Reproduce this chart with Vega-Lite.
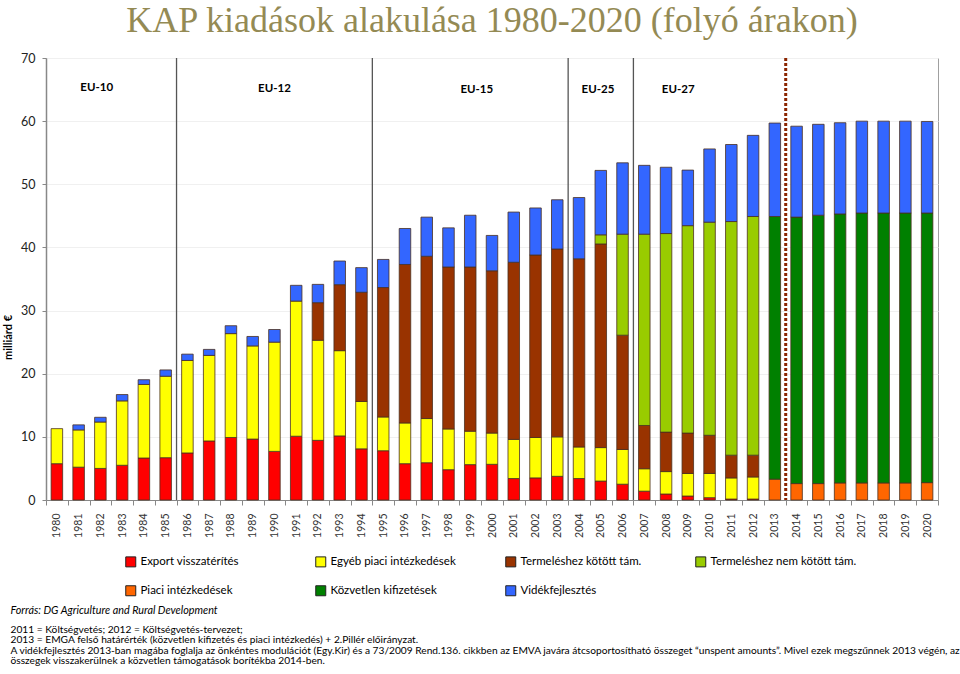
{
  "$schema": "https://vega.github.io/schema/vega-lite/v6.json",
  "width": 892,
  "height": 442,
  "autosize": {"type": "none"},
  "padding": {"left": 46, "top": 58, "right": 22, "bottom": 174},
  "background": "white",
  "config": {
    "font": "Lato",
    "view": {"stroke": "#a0a0a0", "strokeWidth": 1},
    "axis": {"labelFont": "Lato", "titleFont": "Lato"},
    "legend": {"labelFont": "Lato"},
    "text": {"font": "Lato"}
  },
  "title": {
    "text": "KAP kiadások alakulása 1980-2020 (folyó árakon)",
    "font": "Liberation Serif",
    "fontSize": 36,
    "fontWeight": "normal",
    "color": "#948A54",
    "anchor": "middle",
    "frame": "group",
    "offset": 12
  },
  "datasets": {
    "kiadasok": [
      {"ev": "1980", "k": "exp", "v": 5.75}, {"ev": "1980", "k": "egy", "v": 5.55},
      {"ev": "1981", "k": "exp", "v": 5.2}, {"ev": "1981", "k": "egy", "v": 5.9}, {"ev": "1981", "k": "vid", "v": 0.8},
      {"ev": "1982", "k": "exp", "v": 5.0}, {"ev": "1982", "k": "egy", "v": 7.35}, {"ev": "1982", "k": "vid", "v": 0.75},
      {"ev": "1983", "k": "exp", "v": 5.5}, {"ev": "1983", "k": "egy", "v": 10.2}, {"ev": "1983", "k": "vid", "v": 1.0},
      {"ev": "1984", "k": "exp", "v": 6.65}, {"ev": "1984", "k": "egy", "v": 11.65}, {"ev": "1984", "k": "vid", "v": 0.75},
      {"ev": "1985", "k": "exp", "v": 6.7}, {"ev": "1985", "k": "egy", "v": 12.9}, {"ev": "1985", "k": "vid", "v": 1.0},
      {"ev": "1986", "k": "exp", "v": 7.45}, {"ev": "1986", "k": "egy", "v": 14.65}, {"ev": "1986", "k": "vid", "v": 1.0},
      {"ev": "1987", "k": "exp", "v": 9.35}, {"ev": "1987", "k": "egy", "v": 13.55}, {"ev": "1987", "k": "vid", "v": 0.95},
      {"ev": "1988", "k": "exp", "v": 9.9}, {"ev": "1988", "k": "egy", "v": 16.45}, {"ev": "1988", "k": "vid", "v": 1.25},
      {"ev": "1989", "k": "exp", "v": 9.65}, {"ev": "1989", "k": "egy", "v": 14.75}, {"ev": "1989", "k": "vid", "v": 1.5},
      {"ev": "1990", "k": "exp", "v": 7.7}, {"ev": "1990", "k": "egy", "v": 17.3}, {"ev": "1990", "k": "vid", "v": 2.0},
      {"ev": "1991", "k": "exp", "v": 10.1}, {"ev": "1991", "k": "egy", "v": 21.4}, {"ev": "1991", "k": "vid", "v": 2.5},
      {"ev": "1992", "k": "exp", "v": 9.45}, {"ev": "1992", "k": "egy", "v": 15.85}, {"ev": "1992", "k": "kot", "v": 5.95}, {"ev": "1992", "k": "vid", "v": 2.9},
      {"ev": "1993", "k": "exp", "v": 10.15}, {"ev": "1993", "k": "egy", "v": 13.5}, {"ev": "1993", "k": "kot", "v": 10.45}, {"ev": "1993", "k": "vid", "v": 3.75},
      {"ev": "1994", "k": "exp", "v": 8.1}, {"ev": "1994", "k": "egy", "v": 7.5}, {"ev": "1994", "k": "kot", "v": 17.3}, {"ev": "1994", "k": "vid", "v": 3.9},
      {"ev": "1995", "k": "exp", "v": 7.8}, {"ev": "1995", "k": "egy", "v": 5.35}, {"ev": "1995", "k": "kot", "v": 20.5}, {"ev": "1995", "k": "vid", "v": 4.45},
      {"ev": "1996", "k": "exp", "v": 5.75}, {"ev": "1996", "k": "egy", "v": 6.45}, {"ev": "1996", "k": "kot", "v": 25.1}, {"ev": "1996", "k": "vid", "v": 5.7},
      {"ev": "1997", "k": "exp", "v": 5.9}, {"ev": "1997", "k": "egy", "v": 7.0}, {"ev": "1997", "k": "kot", "v": 25.7}, {"ev": "1997", "k": "vid", "v": 6.2},
      {"ev": "1998", "k": "exp", "v": 4.8}, {"ev": "1998", "k": "egy", "v": 6.45}, {"ev": "1998", "k": "kot", "v": 25.65}, {"ev": "1998", "k": "vid", "v": 6.2},
      {"ev": "1999", "k": "exp", "v": 5.6}, {"ev": "1999", "k": "egy", "v": 5.3}, {"ev": "1999", "k": "kot", "v": 26.0}, {"ev": "1999", "k": "vid", "v": 8.2},
      {"ev": "2000", "k": "exp", "v": 5.65}, {"ev": "2000", "k": "egy", "v": 4.95}, {"ev": "2000", "k": "kot", "v": 25.7}, {"ev": "2000", "k": "vid", "v": 5.6},
      {"ev": "2001", "k": "exp", "v": 3.4}, {"ev": "2001", "k": "egy", "v": 6.2}, {"ev": "2001", "k": "kot", "v": 28.05}, {"ev": "2001", "k": "vid", "v": 7.95},
      {"ev": "2002", "k": "exp", "v": 3.5}, {"ev": "2002", "k": "egy", "v": 6.4}, {"ev": "2002", "k": "kot", "v": 28.9}, {"ev": "2002", "k": "vid", "v": 7.45},
      {"ev": "2003", "k": "exp", "v": 3.75}, {"ev": "2003", "k": "egy", "v": 6.25}, {"ev": "2003", "k": "kot", "v": 29.75}, {"ev": "2003", "k": "vid", "v": 7.8},
      {"ev": "2004", "k": "exp", "v": 3.4}, {"ev": "2004", "k": "egy", "v": 5.0}, {"ev": "2004", "k": "kot", "v": 29.8}, {"ev": "2004", "k": "vid", "v": 9.7},
      {"ev": "2005", "k": "exp", "v": 3.0}, {"ev": "2005", "k": "egy", "v": 5.3}, {"ev": "2005", "k": "kot", "v": 32.25}, {"ev": "2005", "k": "nkot", "v": 1.45}, {"ev": "2005", "k": "vid", "v": 10.2},
      {"ev": "2006", "k": "exp", "v": 2.5}, {"ev": "2006", "k": "egy", "v": 5.5}, {"ev": "2006", "k": "kot", "v": 18.1}, {"ev": "2006", "k": "nkot", "v": 16.0}, {"ev": "2006", "k": "vid", "v": 11.3},
      {"ev": "2007", "k": "exp", "v": 1.4}, {"ev": "2007", "k": "egy", "v": 3.55}, {"ev": "2007", "k": "kot", "v": 6.85}, {"ev": "2007", "k": "nkot", "v": 30.3}, {"ev": "2007", "k": "vid", "v": 10.9},
      {"ev": "2008", "k": "exp", "v": 0.95}, {"ev": "2008", "k": "egy", "v": 3.55}, {"ev": "2008", "k": "kot", "v": 6.25}, {"ev": "2008", "k": "nkot", "v": 31.45}, {"ev": "2008", "k": "vid", "v": 10.5},
      {"ev": "2009", "k": "exp", "v": 0.63}, {"ev": "2009", "k": "egy", "v": 3.57}, {"ev": "2009", "k": "kot", "v": 6.4}, {"ev": "2009", "k": "nkot", "v": 32.85}, {"ev": "2009", "k": "vid", "v": 8.8},
      {"ev": "2010", "k": "exp", "v": 0.37}, {"ev": "2010", "k": "egy", "v": 3.83}, {"ev": "2010", "k": "kot", "v": 6.05}, {"ev": "2010", "k": "nkot", "v": 33.75}, {"ev": "2010", "k": "vid", "v": 11.6},
      {"ev": "2011", "k": "exp", "v": 0.15}, {"ev": "2011", "k": "egy", "v": 3.35}, {"ev": "2011", "k": "kot", "v": 3.6}, {"ev": "2011", "k": "nkot", "v": 37.0}, {"ev": "2011", "k": "vid", "v": 12.2},
      {"ev": "2012", "k": "exp", "v": 0.15}, {"ev": "2012", "k": "egy", "v": 3.5}, {"ev": "2012", "k": "kot", "v": 3.45}, {"ev": "2012", "k": "nkot", "v": 37.8}, {"ev": "2012", "k": "vid", "v": 12.85},
      {"ev": "2013", "k": "pia", "v": 3.3}, {"ev": "2013", "k": "kozv", "v": 41.6}, {"ev": "2013", "k": "vid", "v": 14.8},
      {"ev": "2014", "k": "pia", "v": 2.6}, {"ev": "2014", "k": "kozv", "v": 42.2}, {"ev": "2014", "k": "vid", "v": 14.4},
      {"ev": "2015", "k": "pia", "v": 2.6}, {"ev": "2015", "k": "kozv", "v": 42.5}, {"ev": "2015", "k": "vid", "v": 14.4},
      {"ev": "2016", "k": "pia", "v": 2.7}, {"ev": "2016", "k": "kozv", "v": 42.6}, {"ev": "2016", "k": "vid", "v": 14.45},
      {"ev": "2017", "k": "pia", "v": 2.7}, {"ev": "2017", "k": "kozv", "v": 42.75}, {"ev": "2017", "k": "vid", "v": 14.55},
      {"ev": "2018", "k": "pia", "v": 2.7}, {"ev": "2018", "k": "kozv", "v": 42.75}, {"ev": "2018", "k": "vid", "v": 14.55},
      {"ev": "2019", "k": "pia", "v": 2.7}, {"ev": "2019", "k": "kozv", "v": 42.75}, {"ev": "2019", "k": "vid", "v": 14.55},
      {"ev": "2020", "k": "pia", "v": 2.75}, {"ev": "2020", "k": "kozv", "v": 42.7}, {"ev": "2020", "k": "vid", "v": 14.5}
    ],
    "sorozatok": [
      {"k": "exp", "tetel": "Export visszatérítés", "rang": 1},
      {"k": "egy", "tetel": "Egyéb piaci intézkedések", "rang": 2},
      {"k": "kot", "tetel": "Termeléshez kötött tám.", "rang": 3},
      {"k": "nkot", "tetel": "Termeléshez nem kötött tám.", "rang": 4},
      {"k": "pia", "tetel": "Piaci intézkedések", "rang": 5},
      {"k": "kozv", "tetel": "Közvetlen kifizetések", "rang": 6},
      {"k": "vid", "tetel": "Vidékfejlesztés", "rang": 7}
    ],
    "hatarok": [{"pos": 1985.5}, {"pos": 1994.5}, {"pos": 2003.5}, {"pos": 2006.5}],
    "elorejelzes": [{"pos": 2013.5}],
    "bovitesek": [
      {"felirat": "EU-10", "pos": 1981.83, "y": 65.25},
      {"felirat": "EU-12", "pos": 1990.0, "y": 65.1},
      {"felirat": "EU-15", "pos": 1999.3, "y": 64.95},
      {"felirat": "EU-25", "pos": 2004.87, "y": 64.95},
      {"felirat": "EU-27", "pos": 2008.56, "y": 64.95}
    ]
  },
  "layer": [
    {
      "data": {"name": "kiadasok"},
      "transform": [
        {"lookup": "k", "from": {"data": {"name": "sorozatok"}, "key": "k", "fields": ["tetel", "rang"]}}
      ],
      "mark": {"type": "bar", "width": {"band": 0.53}, "stroke": "#4a3020", "strokeWidth": 0.8},
      "encoding": {
        "x": {
          "field": "ev",
          "type": "ordinal",
          "scale": {"paddingInner": 0, "paddingOuter": 0},
          "axis": {
            "title": [
              "2011 = Költségvetés; 2012 = Költségvetés-tervezet;",
              "2013 = EMGA felső határérték (közvetlen kifizetés és piaci intézkedés) + 2.Pillér előirányzat.",
              "A vidékfejlesztés 2013-ban magába foglalja az önkéntes modulációt (Egy.Kir) és a 73/2009 Rend.136. cikkben az EMVA javára átcsoportosítható összeget “unspent amounts”. Mivel ezek megszűnnek 2013 végén, az",
              "összegek visszakerülnek a közvetlen támogatások borítékba 2014-ben."
            ],
            "titleX": -36,
            "titleY": 124,
            "titleAlign": "left",
            "titleBaseline": "top",
            "titleFontWeight": "normal",
            "titleFontSize": 10.2,
            "titleLineHeight": 10.6,
            "titleColor": "#000000",
            "labelAngle": -90,
            "labelFontSize": 10.5,
            "labelColor": "#333333",
            "tickBand": "extent",
            "tickSize": 5,
            "labelPadding": 8,
            "domainColor": "#888888",
            "tickColor": "#888888"
          }
        },
        "y": {
          "field": "v",
          "type": "quantitative",
          "stack": "zero",
          "title": "milliárd €",
          "scale": {"domain": [0, 70], "nice": false},
          "axis": {
            "values": [0, 10, 20, 30, 40, 50, 60, 70],
            "titleFontWeight": "bold",
            "titleFontSize": 11,
            "titleAngle": 270,
            "titleX": -38,
            "titleY": 279,
            "titleAlign": "center",
            "titleBaseline": "middle",
            "titleColor": "#000000",
            "labelFontSize": 12.5,
            "labelColor": "#222222",
            "labelPadding": 7,
            "tickSize": 4,
            "tickColor": "#888888",
            "domainColor": "#888888",
            "domainWidth": 1.5,
            "grid": true,
            "gridColor": "#f0f0f0"
          }
        },
        "color": {
          "field": "tetel",
          "type": "nominal",
          "scale": {
            "domain": ["Export visszatérítés", "Egyéb piaci intézkedések", "Termeléshez kötött tám.", "Termeléshez nem kötött tám.", "Piaci intézkedések", "Közvetlen kifizetések", "Vidékfejlesztés"],
            "range": ["#FF0000", "#FFFF00", "#993300", "#99CC00", "#FF6600", "#008000", "#3366FF"]
          },
          "legend": {
            "orient": "none",
            "direction": "horizontal",
            "legendX": 79,
            "legendY": 498,
            "columns": 4,
            "title": null,
            "symbolType": "square",
            "symbolSize": 100,
            "symbolStrokeColor": "#222222",
            "symbolStrokeWidth": 1,
            "labelFontSize": 11.5,
            "labelColor": "#000000",
            "labelOffset": 4,
            "columnPadding": 26,
            "rowPadding": 14,
            "gridAlign": "all",
            "padding": 0
          }
        },
        "order": {"field": "rang", "type": "quantitative", "sort": "ascending"}
      }
    },
    {
      "layer": [
        {
          "data": {"name": "hatarok"},
          "mark": {"type": "rule", "color": "#555555", "strokeWidth": 1.3},
          "encoding": {
            "x": {
              "field": "pos",
              "type": "quantitative",
              "title": "Forrás: DG Agriculture and Rural Development",
              "scale": {"domain": [1979.5, 2020.5], "nice": false, "zero": false},
              "axis": {
                "orient": "top",
                "domain": false,
                "ticks": false,
                "labels": false,
                "grid": false,
                "titleFontStyle": "italic",
                "titleFontWeight": "normal",
                "titleFontSize": 10.8,
                "titleColor": "#000000",
                "titleX": -36,
                "titleY": 552,
                "titleAlign": "left",
                "titleBaseline": "middle",
                "titleAngle": 0
              }
            }
          }
        },
        {
          "data": {"name": "elorejelzes"},
          "mark": {"type": "rule", "color": "#8B2500", "strokeWidth": 3, "strokeDash": [3, 2]},
          "encoding": {
            "x": {"field": "pos", "type": "quantitative", "title": "Forrás: DG Agriculture and Rural Development", "scale": {"domain": [1979.5, 2020.5], "nice": false, "zero": false}}
          }
        },
        {
          "data": {"name": "bovitesek"},
          "mark": {"type": "text", "fontWeight": "bold", "fontSize": 11.5, "color": "#000000"},
          "encoding": {
            "x": {"field": "pos", "type": "quantitative", "title": "Forrás: DG Agriculture and Rural Development", "scale": {"domain": [1979.5, 2020.5], "nice": false, "zero": false}},
            "y": {"field": "y", "type": "quantitative", "title": "milliárd €"},
            "text": {"field": "felirat"}
          }
        }
      ]
    }
  ],
  "resolve": {"scale": {"x": "independent"}}
}
